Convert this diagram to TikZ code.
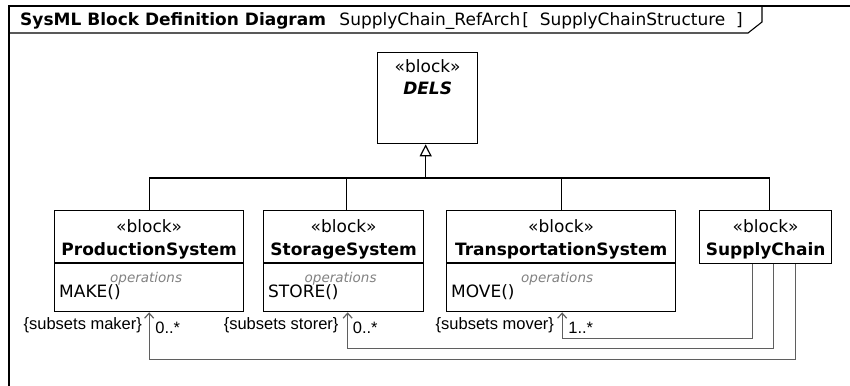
\documentclass[tikz,border=0pt]{standalone}
\usepackage{fontspec}
\setmainfont{DejaVu Sans}
\newfontfamily\lblfont{Liberation Sans}
\usepackage{tikz}
\usetikzlibrary{positioning,arrows.meta}
\definecolor{opgray}{RGB}{130,130,130}
\definecolor{assocgray}{RGB}{95,95,95}
\newcommand{\blkfont}{\fontsize{17}{20}\selectfont}
\newcommand{\opfont}{\fontsize{13.5}{16}\selectfont}
\newcommand{\multfont}{\lblfont\fontsize{16.5}{19}\selectfont}
\tikzset{
  blk/.style={draw=black,line width=1.3pt,fill=white,anchor=north west,inner sep=0pt},
  stereo/.style={anchor=base,inner sep=0pt,font=\blkfont},
  bname/.style={anchor=base,inner sep=0pt,font=\blkfont\bfseries},
  opcap/.style={anchor=base,inner sep=0pt,font=\opfont\itshape,text=opgray},
  opline/.style={anchor=base west,inner sep=0pt,font=\blkfont},
  multlbl/.style={inner sep=0pt,font=\multfont},
  genline/.style={draw=black,line width=1.2pt},
  assoc/.style={draw=assocgray,line width=1.2pt,-{Straight Barb[length=5pt,width=9pt]}}
}

\begin{document}
\begin{tikzpicture}[x=1pt,y=-1pt]
	\useasboundingbox (0,0) rectangle (850,385);
	
	% frame and header tab
	\draw[line width=1.3pt] (9,392) -- (9,6) -- (858,6);
	\draw[line width=1.1pt] (9,33) -- (748,33) -- (762,22) -- (762,6);
	\node[anchor=base west,inner sep=0pt,font=\blkfont\bfseries] (title) at (20,26) {SysML Block Definition Diagram};
	\node[anchor=base west,inner sep=0pt,font=\blkfont] (ctx) at ([xshift=13pt]title.base east) {SupplyChain\_RefArch\hspace{2pt}[\ \ SupplyChainStructure\ \ ]};
	
	% blocks
	\node[blk,minimum width=100pt,minimum height=91pt] (dels) at (377,52) {};
	\node[stereo] (dels-st) at ([yshift=-21pt]dels.north) {«block»};
	\node[bname,font=\blkfont\bfseries\itshape] (dels-nm) at ([yshift=-43pt]dels.north) {DELS};
	
	\node[blk,minimum width=189pt,minimum height=101pt] (ps) at (54,210) {};
	\node[blk,minimum width=160pt,minimum height=101pt] (ss) at (263,210) {};
	\node[blk,minimum width=229pt,minimum height=101pt] (ts) at (446,210) {};
	\node[blk,minimum width=132pt,minimum height=53pt] (sc) at (699,210) {};
	
	\draw[line width=1.3pt] ([yshift=-53pt]ps.north west) -- ([yshift=-53pt]ps.north east);
	\draw[line width=1.3pt] ([yshift=-53pt]ss.north west) -- ([yshift=-53pt]ss.north east);
	\draw[line width=1.3pt] ([yshift=-53pt]ts.north west) -- ([yshift=-53pt]ts.north east);
	
	\node[stereo] (ps-st) at ([yshift=-22pt]ps.north) {«block»};
	\node[bname] (ps-nm) at ([yshift=-45pt]ps.north) {ProductionSystem};
	\node[opcap] (ps-oc) at ([xshift=-3pt,yshift=-72pt]ps.north) {operations};
	\node[opline] (ps-op) at ([xshift=5pt,yshift=-87pt]ps.north west) {MAKE()};
	
	\node[stereo] (ss-st) at ([yshift=-22pt]ss.north) {«block»};
	\node[bname] (ss-nm) at ([yshift=-45pt]ss.north) {StorageSystem};
	\node[opcap] (ss-oc) at ([xshift=-3pt,yshift=-72pt]ss.north) {operations};
	\node[opline] (ss-op) at ([xshift=5pt,yshift=-87pt]ss.north west) {STORE()};
	
	\node[stereo] (ts-st) at ([yshift=-22pt]ts.north) {«block»};
	\node[bname] (ts-nm) at ([yshift=-45pt]ts.north) {TransportationSystem};
	\node[opcap] (ts-oc) at ([xshift=-4pt,yshift=-72pt]ts.north) {operations};
	\node[opline] (ts-op) at ([xshift=5pt,yshift=-87pt]ts.north west) {MOVE()};
	
	\node[stereo] (sc-st) at ([yshift=-22pt]sc.north) {«block»};
	\node[bname] (sc-nm) at ([yshift=-45pt]sc.north) {SupplyChain};
	
	% generalization tree
	\coordinate (bus) at (0,178);
	\draw[genline] (ps.north) -- (ps.north |- bus) -- ([xshift=4pt]sc.north |- bus) -- ([xshift=4pt]sc.north);
	\draw[genline] ([xshift=3pt]ss.north) -- ([xshift=3pt]ss.north |- bus);
	\draw[genline] (ts.north) -- (ts.north |- bus);
	\draw[genline,-{Triangle[open,length=12pt,width=12pt]}] ([xshift=-2pt]dels.south |- bus) -- ([xshift=-2pt]dels.south);
	
	% associations
	\draw[assoc] ([xshift=-13pt]sc.south) -- ++(0,74) -| ([xshift=1pt]ts.south);
	\draw[assoc] ([xshift=8pt]sc.south) -- ++(0,84) -| ([xshift=4pt]ss.south);
	\draw[assoc] ([xshift=30pt]sc.south) -- ++(0,95) -| (ps.south);
	
	\node[multlbl,anchor=base east] (ps-role) at ([xshift=-7pt,yshift=-17pt]ps.south) {\{subsets maker\}};
	\node[multlbl,anchor=base west] (ps-mul) at ([xshift=6pt,yshift=-21pt]ps.south) {0..*};
	\node[multlbl,anchor=base east] (ss-role) at ([xshift=-5pt,yshift=-17pt]ss.south) {\{subsets storer\}};
	\node[multlbl,anchor=base west] (ss-mul) at ([xshift=9pt,yshift=-21pt]ss.south) {0..*};
	\node[multlbl,anchor=base east] (ts-role) at ([xshift=-7pt,yshift=-17pt]ts.south) {\{subsets mover\}};
	\node[multlbl,anchor=base west] (ts-mul) at ([xshift=7pt,yshift=-21pt]ts.south) {1..*};
\end{tikzpicture}
\end{document}
